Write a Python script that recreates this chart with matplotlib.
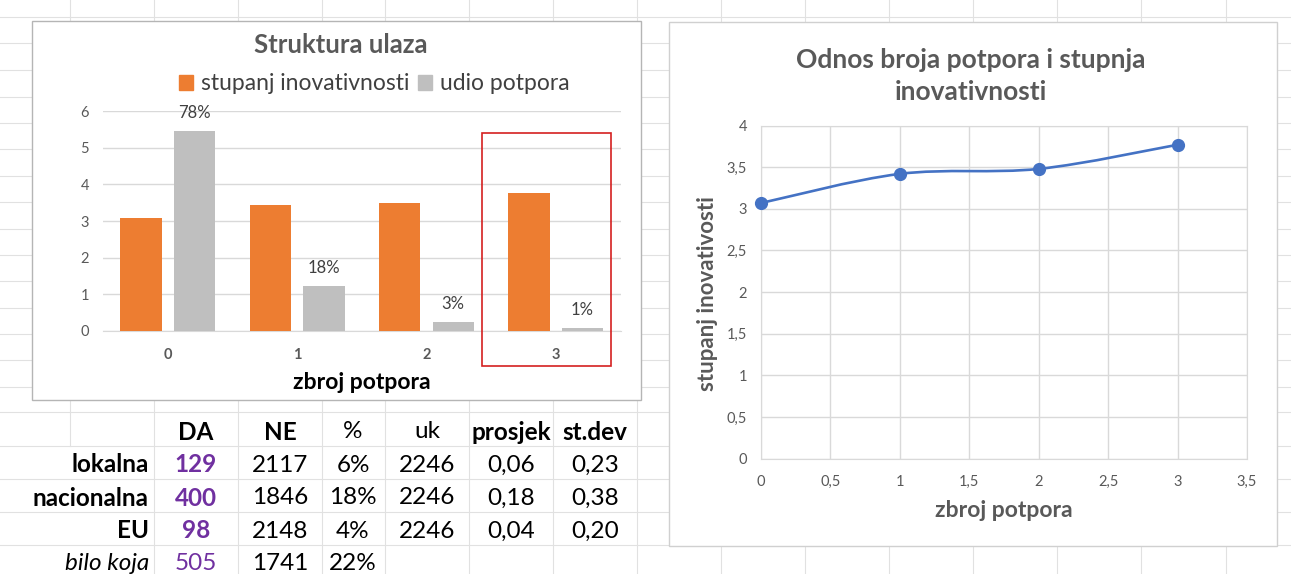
import numpy as np
import matplotlib
matplotlib.use("Agg")
import matplotlib.pyplot as plt
from matplotlib.path import Path
from matplotlib.patches import PathPatch, Rectangle

plt.rcParams['font.family'] = ['Lato', 'DejaVu Sans']

# bar chart: innovation level and share of firms by number of supports
categories = ["0", "1", "2", "3"]
innovation = [3.07, 3.43, 3.48, 3.76]
support_share = [0.779, 0.176, 0.034, 0.010]
SHARE_SCALE = 7  # shares are stretched onto the innovation axis

# line chart
support_count = [0, 1, 2, 3]
innovation_line = [3.07, 3.42, 3.48, 3.77]

# table under the bar chart
table_header = ["DA", "NE", "%", "uk", "prosjek", "st.dev"]
header_bold = [True, True, False, False, True, True]
row_labels = ["lokalna", "nacionalna", "EU", "bilo koja"]
da = [129, 400, 98, 505]
ne = [2117, 1846, 2148, 1741]
pct = [6, 18, 4, 22]
uk = [2246, 2246, 2246, None]
prosjek = [0.06, 0.18, 0.04, None]
stdev = [0.23, 0.38, 0.20, None]

ORANGE = "#ED7D31"
GREY = "#BFBFBF"
BLUE = "#4472C4"
PURPLE = "#7030A0"
TEXT_GREY = "#595959"
GRID = "#D9D9D9"
SHEET = "#E1E1E1"

W, H = 1291, 574
fig = plt.figure(figsize=(W / 100, H / 100), dpi=100)


def px_axes(x0, y0, x1, y1, **kw):
    return fig.add_axes([x0 / W, 1 - y1 / H, (x1 - x0) / W, (y1 - y0) / H], **kw)


def comma(v, fmt="{:.2f}"):
    return fmt.format(v).replace(".", ",")


# ---- spreadsheet background -------------------------------------------
bg = px_axes(0, 0, W, H)
bg.set_xlim(0, W)
bg.set_ylim(H, 0)
bg.axis("off")

col_edges = [154, 238, 322, 385, 469, 553, 637, 721, 805, 889, 973, 1057, 1141, 1226]
row_edges = [17, 43, 70, 97, 123, 149, 176, 202, 229, 255, 281, 308, 334, 360,
             387, 412, 446, 479, 512, 545]
for y in row_edges:
    bg.plot([0, W], [y, y], color=SHEET, lw=0.8, zorder=0)
for x in col_edges:
    bg.plot([x, x], [0, H], color=SHEET, lw=0.8, zorder=0)
bg.plot([70, 70], [0, 446], color=SHEET, lw=0.8, zorder=0)

# chart panels
bg.add_patch(Rectangle((32, 21), 609, 379, facecolor="white", edgecolor="#B5B5B5",
                       lw=1.0, zorder=1))
bg.add_patch(Rectangle((669, 22), 608, 524, facecolor="white", edgecolor="#D0D0D0",
                       lw=1.0, zorder=1))

# table
col_centers = [196, 280, 353, 427, 511, 595]
row_centers = [465, 498, 531, 563]
TS = 17.5
for cx, name, b in zip(col_centers, table_header, header_bold):
    bg.text(cx, 432, name, ha="center", va="center", fontsize=TS,
            fontweight="bold" if b else "normal", color="black", zorder=2)
for i, cy in enumerate(row_centers):
    last = i == len(row_labels) - 1
    bg.text(149, cy, row_labels[i], ha="right", va="center", fontsize=TS,
            fontweight="normal" if last else "bold",
            fontstyle="italic" if last else "normal", zorder=2)
    cells = [str(ne[i]), f"{pct[i]}%",
             "" if uk[i] is None else str(uk[i]),
             "" if prosjek[i] is None else comma(prosjek[i]),
             "" if stdev[i] is None else comma(stdev[i])]
    bg.text(col_centers[0], cy, str(da[i]), ha="center", va="center", fontsize=TS,
            color=PURPLE, fontweight="normal" if last else "bold", zorder=2)
    for cx, s in zip(col_centers[1:], cells):
        bg.text(cx, cy, s, ha="center", va="center", fontsize=TS, zorder=2)

# ---- bar chart ----------------------------------------------------------
ax = px_axes(103, 111, 620.5, 331)
ax.set_zorder(2)
ax.patch.set_visible(False)
x = np.arange(len(categories))
share_h = [s * SHARE_SCALE for s in support_share]
ax.bar(x - 0.207, innovation, width=0.32, color=ORANGE, zorder=3)
ax.bar(x + 0.207, share_h, width=0.32, color=GREY, zorder=3)
for xi, h, s in zip(x, share_h, support_share):
    ax.annotate(f"{s:.0%}", (xi + 0.207, h), xytext=(0, 13), textcoords="offset points",
                ha="center", va="center", fontsize=12, color="#404040")
ax.set_xlim(-0.5, 3.5)
ax.set_ylim(0, 6)
ax.set_yticks(range(7))
ax.set_xticks(x, categories)
ax.grid(axis="y", color=GRID, lw=1.0, zorder=0)
ax.tick_params(length=0, labelsize=10.5, colors=TEXT_GREY)
ax.tick_params(axis="y", pad=10)
ax.tick_params(axis="x", pad=12)
for lbl in ax.get_xticklabels():
    lbl.set_fontweight("bold")
for side in ["top", "right", "left"]:
    ax.spines[side].set_visible(False)
ax.spines["bottom"].set_color(GRID)
ax.set_xlabel("zbroj potpora", fontsize=16.5, fontweight="bold", color="black",
              va="center")
ax.xaxis.set_label_coords(0.5, -0.236)
ax.text(0.46, 1.3, "Struktura ulaza", transform=ax.transAxes, ha="center", va="center",
        fontsize=18.5, fontweight="bold", color=TEXT_GREY)
handles = [Rectangle((0, 0), 1, 1, color=ORANGE), Rectangle((0, 0), 1, 1, color=GREY)]
ax.legend(handles, ["stupanj inovativnosti", "udio potpora"], ncol=2, frameon=False,
          loc="center", bbox_to_anchor=(0.524, 1.123), fontsize=16.5,
          handlelength=0.6, handleheight=0.6, handletextpad=0.35, columnspacing=0.4,
          labelcolor="#404040")
# highlight the last category
ax.add_patch(Rectangle((2.43, -0.95), 1.0, 6.35, fill=False, edgecolor="#D42020",
                       lw=1.2, clip_on=False, zorder=4))

# ---- line chart ---------------------------------------------------------
ax2 = px_axes(761, 125.6, 1247, 458.6)
ax2.set_zorder(2)
ax2.set_xlim(0, 3.5)
ax2.set_ylim(0, 4)
xt = np.arange(0, 3.51, 0.5)
yt = np.arange(0, 4.01, 0.5)
ax2.set_xticks(xt, [comma(v, "{:g}") for v in xt])
ax2.set_yticks(yt, [comma(v, "{:g}") for v in yt])
ax2.grid(color=GRID, lw=1.0)
ax2.set_axisbelow(True)
ax2.tick_params(length=0, labelsize=10.5, colors=TEXT_GREY)
ax2.tick_params(axis="y", pad=10)
ax2.tick_params(axis="x", pad=12)
for sp in ax2.spines.values():
    sp.set_color(GRID)

# smoothed line, Bezier segments through the points
pts = np.column_stack([support_count, innovation_line]).astype(float)
ext = np.vstack([pts[0], pts, pts[-1]])
verts, codes = [pts[0]], [Path.MOVETO]
for i in range(len(pts) - 1):
    p0, p1, p2, p3 = ext[i], ext[i + 1], ext[i + 2], ext[i + 3]
    verts += [p1 + (p2 - p0) / 6, p2 - (p3 - p1) / 6, p2]
    codes += [Path.CURVE4] * 3
ax2.add_patch(PathPatch(Path(verts, codes), facecolor="none", edgecolor=BLUE, lw=1.9,
                        zorder=3))
ax2.plot(support_count, innovation_line, "o", color=BLUE, markersize=8.5, zorder=4,
         clip_on=False)

ax2.set_xlabel("zbroj potpora", fontsize=16.5, fontweight="bold", color=TEXT_GREY,
               va="center")
ax2.xaxis.set_label_coords(0.5, -0.157)
ax2.set_ylabel("stupanj inovativosti", fontsize=16, fontweight="bold", color=TEXT_GREY,
               va="center")
ax2.yaxis.set_label_coords(-0.111, 0.497)
ax2.text(0.432, 1.149, "Odnos broja potpora i stupnja\ninovativnosti",
         transform=ax2.transAxes, ha="center", va="center", fontsize=19,
         fontweight="bold", color=TEXT_GREY, linespacing=1.4)

fig.savefig("out.png", dpi=100)
